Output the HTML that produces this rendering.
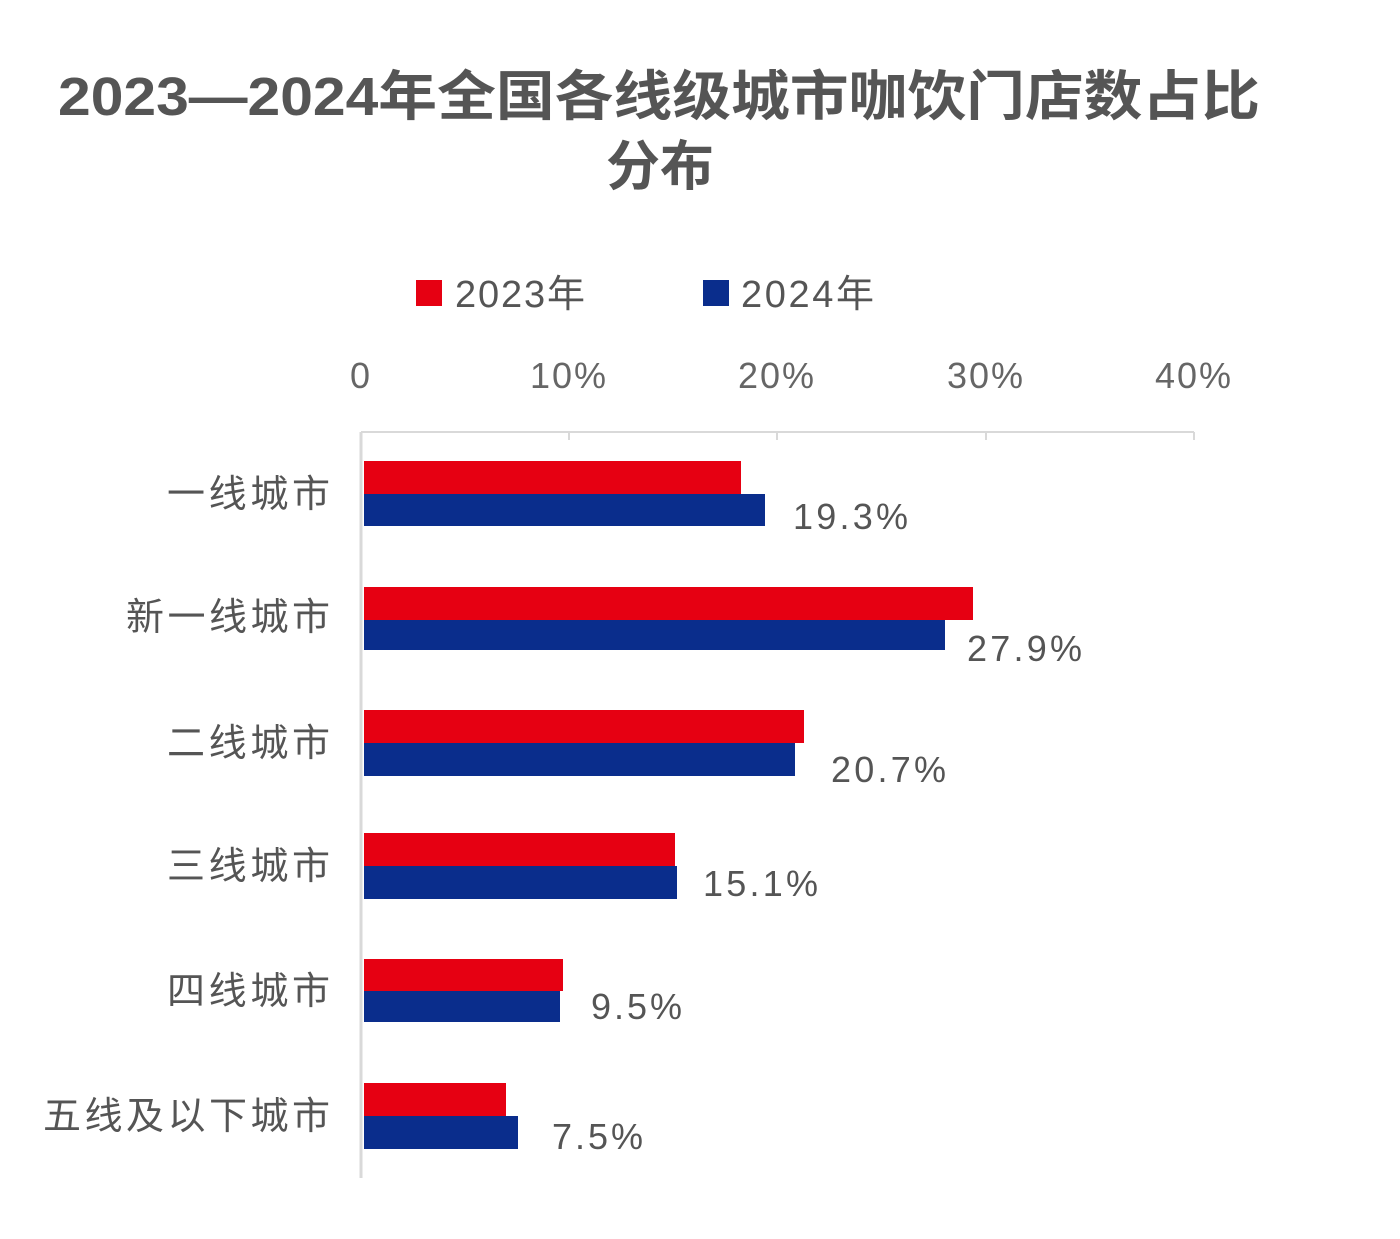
<!DOCTYPE html>
<html><head><meta charset="utf-8"><style>
html,body{margin:0;padding:0;background:#fff;}
svg text{font-family:"Liberation Sans","Noto Sans CJK SC",sans-serif;}
</style></head><body>
<svg width="1400" height="1234" viewBox="0 0 1400 1234" xmlns="http://www.w3.org/2000/svg">
<text x="58" y="115" textLength="1202" lengthAdjust="spacingAndGlyphs" font-size="54" font-weight="bold" fill="#555">2023—2024年全国各线级城市咖饮门店数占比</text>
<text x="660" y="185" text-anchor="middle" font-size="54" font-weight="bold" fill="#555">分布</text>
<rect x="416" y="280" width="26" height="26" fill="#E60012"/>
<text x="455" y="307" font-size="38" fill="#555" textLength="130">2023年</text>
<rect x="703" y="280" width="26" height="26" fill="#0A2D8C"/>
<text x="741" y="307" font-size="38" fill="#555" textLength="133">2024年</text>
<g font-size="36" fill="#666" text-anchor="middle" letter-spacing="2">
<text x="361" y="388">0</text><text x="569" y="388">10%</text><text x="777" y="388">20%</text><text x="986" y="388">30%</text><text x="1194" y="388">40%</text>
</g>
<g stroke="#d9d9d9" stroke-width="2">
<line x1="361" y1="432" x2="1194" y2="432"/>
<line x1="569" y1="432" x2="569" y2="440"/><line x1="777" y1="432" x2="777" y2="440"/><line x1="986" y1="432" x2="986" y2="440"/><line x1="1194" y1="432" x2="1194" y2="440"/>
<line x1="361" y1="432" x2="361" y2="1178" stroke-width="3"/>
</g>
<g fill="#E60012">
<rect x="364" y="461" width="377" height="33"/>
<rect x="364" y="587" width="609" height="33"/>
<rect x="364" y="710" width="440" height="33"/>
<rect x="364" y="833" width="311" height="33"/>
<rect x="364" y="959" width="199" height="32"/>
<rect x="364" y="1083" width="142" height="33"/>
</g>
<g fill="#0A2D8C">
<rect x="364" y="494" width="401" height="32"/>
<rect x="364" y="620" width="581" height="30"/>
<rect x="364" y="743" width="431" height="33"/>
<rect x="364" y="866" width="313" height="33"/>
<rect x="364" y="991" width="196" height="31"/>
<rect x="364" y="1116" width="154" height="33"/>
</g>
<g font-size="36" fill="#555">
<text x="793" y="529" textLength="115">19.3%</text>
<text x="967" y="661" textLength="115">27.9%</text>
<text x="831" y="782" textLength="115">20.7%</text>
<text x="703" y="896" textLength="115">15.1%</text>
<text x="591" y="1019" textLength="91">9.5%</text>
<text x="552" y="1149" textLength="91">7.5%</text>
</g>
<g font-size="38" fill="#555">
<text x="167" y="507" textLength="163">一线城市</text>
<text x="126" y="630" textLength="204">新一线城市</text>
<text x="167" y="756" textLength="163">二线城市</text>
<text x="167" y="879" textLength="163">三线城市</text>
<text x="167" y="1004" textLength="163">四线城市</text>
<text x="43" y="1129" textLength="287">五线及以下城市</text>
</g>
</svg>
</body></html>
